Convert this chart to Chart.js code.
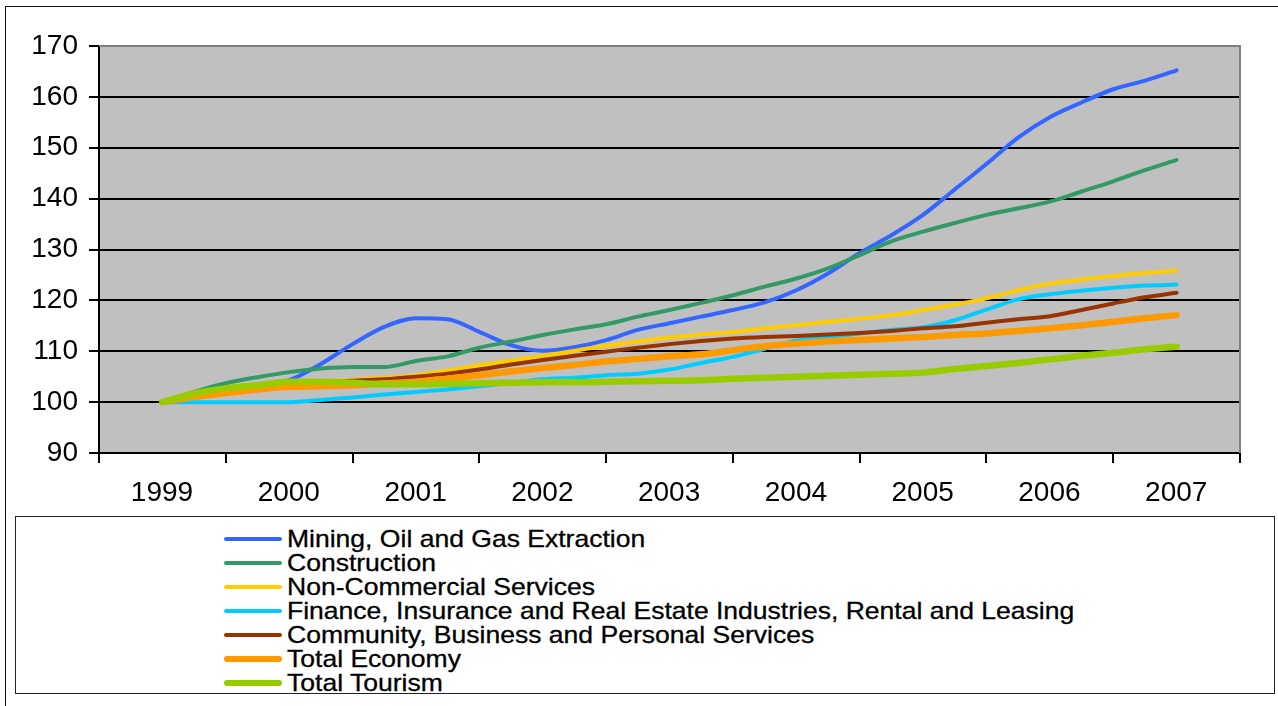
<!DOCTYPE html>
<html>
<head>
<meta charset="utf-8">
<script src="https://cdn.jsdelivr.net/npm/chart.js@4"></script>
<style>
  body { margin: 0; width: 1278px; height: 706px; overflow: hidden; background: #fff;
         font-family: 'Liberation Sans', Arial, sans-serif; }
  #frame { position: absolute; left: 5px; top: 6px; width: 1300px; height: 720px; border: 1.5px solid #111; }
  #wrap { position: absolute; left: 0; top: 0; width: 1278px; height: 516px; }
  #legend { position: absolute; left: 15px; top: 516px; width: 1260px; height: 178px;
            border: 1.5px solid #222; box-sizing: border-box; }
  .row { position: absolute; left: 208px; height: 24px; display: flex; align-items: center; white-space: nowrap; }
  .swatch { width: 58px; border-radius: 3px; }
  .label { margin-left: 5px; font-size: 24px; color: #000; transform: scaleX(1.105); transform-origin: left center;
           -webkit-text-stroke: 0.3px #000; }
</style>
</head>
<body>
<div id="frame"></div>
<div id="wrap"><canvas id="chart"></canvas></div>
<div id="legend"></div>
<script>
// year labels, one per 4 quarterly points
const years = ['1999', '2000', '2001', '2002', '2003', '2004', '2005', '2006', '2007'];

// quarterly index, 1999 = 100
const mining = [100, 101.5, 102.8, 103.5, 104.3, 107.5, 111.4, 114.8, 116.5, 116.3, 113.8, 111.2, 110.1,
  110.8, 112.2, 114.2, 115.5, 116.8, 118.1, 119.6, 122.0, 125.3, 129.3, 132.8, 136.8, 141.8, 146.8,
  152.0, 156.0, 158.9, 161.5, 163.2, 165.2];
const construction = [100, 102.0, 103.7, 104.9, 105.9, 106.6, 106.9, 106.9, 108.1, 109.0, 110.7, 111.9,
  113.2, 114.3, 115.3, 116.8, 118.1, 119.5, 121.0, 122.7, 124.3, 126.3, 128.9, 131.6, 133.5, 135.2,
  136.8, 138.1, 139.4, 141.4, 143.4, 145.6, 147.6];
const nonCommercial = [100, 101.5, 102.8, 103.5, 104.0, 104.1, 104.4, 104.8, 105.3, 106.2, 107.3, 108.2,
  109.1, 110.1, 111.1, 111.9, 112.7, 113.3, 113.8, 114.5, 115.1, 115.8, 116.4, 117.1, 118.1, 119.2,
  120.4, 122.0, 123.3, 124.1, 124.8, 125.4, 125.8];
const finance = [100, 100, 100, 100, 100, 100.4, 100.9, 101.5, 102.0, 102.5, 103.1, 103.8, 104.5, 104.8,
  105.3, 105.6, 106.4, 107.7, 108.9, 110.5, 112.1, 112.8, 113.5, 114.2, 114.7, 116.1, 118.2, 120.2,
  121.2, 121.9, 122.5, 122.9, 123.1];
const community = [100, 101.5, 102.7, 103.4, 103.8, 104.0, 104.2, 104.5, 105.0, 105.6, 106.4, 107.4,
  108.3, 109.1, 109.9, 110.7, 111.4, 112.0, 112.5, 112.8, 113.0, 113.3, 113.6, 114.0, 114.5, 114.9,
  115.6, 116.3, 116.9, 118.1, 119.4, 120.6, 121.5];
const totalEconomy = [100, 101.0, 101.8, 102.5, 103.0, 103.1, 103.3, 103.7, 104.0, 104.6, 105.3, 106.0,
  106.7, 107.3, 108.0, 108.5, 109.0, 109.4, 110.2, 111.0, 111.5, 111.9, 112.2, 112.5, 112.8, 113.2,
  113.5, 114.0, 114.5, 115.1, 115.8, 116.5, 117.1];
const totalTourism = [100, 101.7, 102.7, 103.3, 104.0, 104.0, 103.8, 103.5, 103.5, 103.6, 103.7, 103.8,
  103.9, 103.9, 104.0, 104.1, 104.2, 104.3, 104.6, 104.8, 105.0, 105.2, 105.4, 105.6, 105.8, 106.5,
  107.1, 107.7, 108.4, 109.1, 109.7, 110.4, 110.9];

const series = [
  { label: 'Mining, Oil and Gas Extraction', data: mining, color: '#3366FF', width: 4 },
  { label: 'Construction', data: construction, color: '#339966', width: 4 },
  { label: 'Non-Commercial Services', data: nonCommercial, color: '#FFCC00', width: 4 },
  { label: 'Finance, Insurance and Real Estate Industries, Rental and Leasing', data: finance, color: '#00CCFF', width: 4 },
  { label: 'Community, Business and Personal Services', data: community, color: '#993300', width: 4 },
  { label: 'Total Economy', data: totalEconomy, color: '#FF9900', width: 6.5 },
  { label: 'Total Tourism', data: totalTourism, color: '#99CC00', width: 6.5 },
];

// grey plot area with a grey frame on top/right
const plotBackground = {
  id: 'plotBackground',
  beforeDraw(chart) {
    const { ctx, chartArea: a } = chart;
    ctx.save();
    ctx.fillStyle = '#C0C0C0';
    ctx.fillRect(a.left, a.top, a.right - a.left, a.bottom - a.top);
    ctx.restore();
  },
  afterDraw(chart) {
    const { ctx, chartArea: a } = chart;
    ctx.save();
    ctx.strokeStyle = '#808080';
    ctx.lineWidth = 2;
    ctx.beginPath();
    ctx.moveTo(a.left, a.top);
    ctx.lineTo(a.right, a.top);
    ctx.lineTo(a.right, a.bottom);
    ctx.stroke();
    ctx.restore();
  }
};

const tickFont = { family: "'Liberation Sans', Arial, sans-serif", size: 28 };

const chart = new Chart(document.getElementById('chart'), {
  type: 'line',
  data: {
    datasets: series.map((s, i) => ({
      label: s.label,
      data: s.data.map((v, q) => ({ x: q, y: v })),
      borderColor: s.color,
      borderWidth: s.width,
      borderCapStyle: 'round',
      borderJoinStyle: 'round',
      pointRadius: 0,
      cubicInterpolationMode: 'monotone',
      order: series.length - i,
    }))
  },
  options: {
    responsive: true,
    maintainAspectRatio: false,
    animation: false,
    layout: { padding: { left: 0, top: 46, right: 38, bottom: 0 } },
    plugins: { legend: { display: false }, tooltip: { enabled: false } },
    scales: {
      x: {
        type: 'linear',
        min: -2,
        max: 34,
        afterFit(scale) { scale.height = 63; },
        ticks: {
          stepSize: 4,
          autoSkip: false,
          maxRotation: 0,
          labelOffset: 63,
          padding: 13,
          color: '#000',
          font: tickFont,
          callback: (v, i) => years[i] ?? '',
        },
        grid: { drawOnChartArea: false, color: '#000', lineWidth: 2, tickLength: 10 },
        border: { color: '#000', width: 2 },
      },
      y: {
        min: 90,
        max: 170,
        afterFit(scale) { scale.width = 99; },
        ticks: { stepSize: 10, padding: 11, color: '#000', font: tickFont },
        grid: {
          color: ctx => ctx.tick && ctx.tick.value === 170 ? '#808080' : '#000',
          lineWidth: 2,
          tickLength: 10,
          tickColor: '#000',
        },
        border: { color: '#000', width: 2 },
      },
    },
  },
  plugins: [plotBackground],
});

// legend box below the plot, in series order
const legend = document.getElementById('legend');
chart.data.datasets.forEach((ds, k) => {
  const row = document.createElement('div');
  row.className = 'row';
  row.style.top = (10 + 24 * k) + 'px';
  row.innerHTML = `<span class="swatch" style="height:${ds.borderWidth}px;background:${ds.borderColor}"></span>` +
    `<span class="label">${ds.label}</span>`;
  legend.appendChild(row);
});
</script>
</body>
</html>
